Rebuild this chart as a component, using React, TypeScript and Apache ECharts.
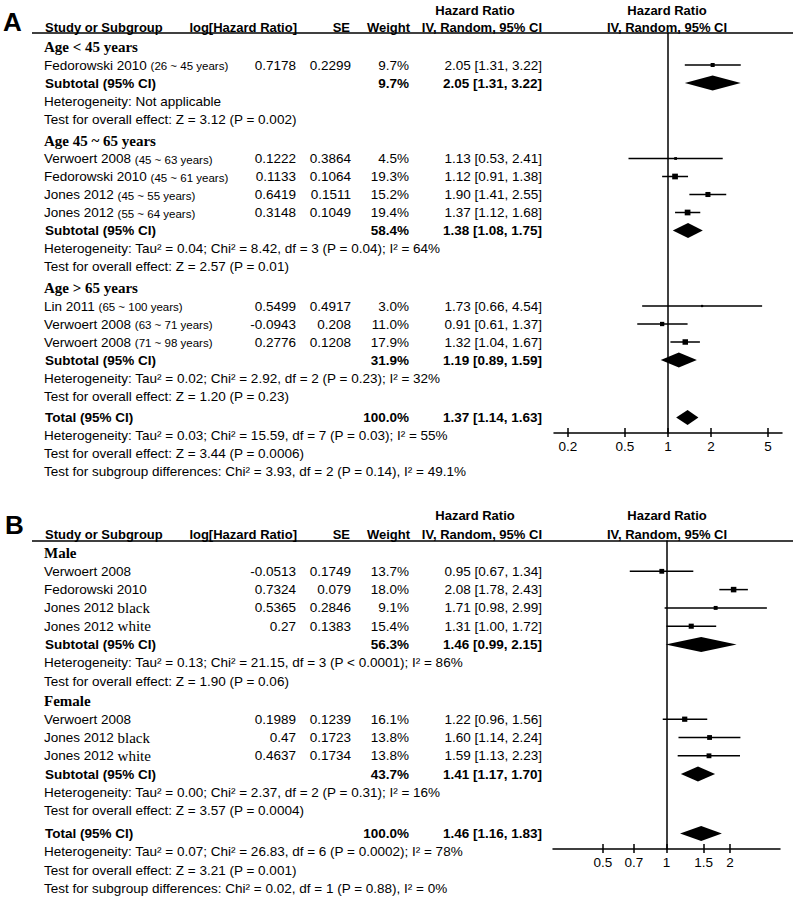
import React, { useEffect, useRef } from "react";
import * as echarts from "echarts";

const SANS = "'Liberation Sans', Arial, sans-serif";
const SERIF = "'Liberation Serif', 'Times New Roman', serif";

// ---------- shared headers ----------
const headerTop = "Hazard Ratio";
const headerCols = ["Study or Subgroup", "log[Hazard Ratio]", "SE", "Weight", "IV, Random, 95% CI"];
const plotHeaderTop = "Hazard Ratio";
const plotHeaderBottom = "IV, Random, 95% CI";

// ---------- Panel A ----------
const groupLabelsA = ["Age < 45 years", "Age 45 ~ 65 years", "Age > 65 years"];
const studyNamesA = ["Fedorowski 2010", "Verwoert 2008", "Fedorowski 2010", "Jones 2012", "Jones 2012", "Lin 2011", "Verwoert 2008", "Verwoert 2008"];
const studyNotesA = ["(26 ~ 45 years)", "(45 ~ 63 years)", "(45 ~ 61 years)", "(45 ~ 55 years)", "(55 ~ 64 years)", "(65 ~ 100 years)", "(63 ~ 71 years)", "(71 ~ 98 years)"];
const studyGroupA = [0, 1, 1, 1, 1, 2, 2, 2];
const logHrA = ["0.7178", "0.1222", "0.1133", "0.6419", "0.3148", "0.5499", "-0.0943", "0.2776"];
const seA = ["0.2299", "0.3864", "0.1064", "0.1511", "0.1049", "0.4917", "0.208", "0.1208"];
const weightA = [9.7, 4.5, 19.3, 15.2, 19.4, 3.0, 11.0, 17.9];
const hrA = [2.05, 1.13, 1.12, 1.9, 1.37, 1.73, 0.91, 1.32];
const loA = [1.31, 0.53, 0.91, 1.41, 1.12, 0.66, 0.61, 1.04];
const hiA = [3.22, 2.41, 1.38, 2.55, 1.68, 4.54, 1.37, 1.67];
const subWeightA = [9.7, 58.4, 31.9];
const subHrA = [2.05, 1.38, 1.19];
const subLoA = [1.31, 1.08, 0.89];
const subHiA = [3.22, 1.75, 1.59];
const hetA = [
  "Heterogeneity: Not applicable",
  "Heterogeneity: Tau\u00b2 = 0.04; Chi\u00b2 = 8.42, df = 3 (P = 0.04); I\u00b2 = 64%",
  "Heterogeneity: Tau\u00b2 = 0.02; Chi\u00b2 = 2.92, df = 2 (P = 0.23); I\u00b2 = 32%",
];
const effectA = [
  "Test for overall effect: Z = 3.12 (P = 0.002)",
  "Test for overall effect: Z = 2.57 (P = 0.01)",
  "Test for overall effect: Z = 1.20 (P = 0.23)",
];
const totalA = [1.37, 1.14, 1.63];
const totalNotesA = [
  "Heterogeneity: Tau\u00b2 = 0.03; Chi\u00b2 = 15.59, df = 7 (P = 0.03); I\u00b2 = 55%",
  "Test for overall effect: Z = 3.44 (P = 0.0006)",
  "Test for subgroup differences: Chi\u00b2 = 3.93, df = 2 (P = 0.14), I\u00b2 = 49.1%",
];
const ticksA = [0.2, 0.5, 1, 2, 5];
const xRangeA = [0.16, 6.25];

// ---------- Panel B ----------
const groupLabelsB = ["Male", "Female"];
const studyNamesB = ["Verwoert 2008", "Fedorowski 2010", "Jones 2012", "Jones 2012", "Verwoert 2008", "Jones 2012", "Jones 2012"];
const studyNotesB = ["", "", "black", "white", "", "black", "white"];
const studyGroupB = [0, 0, 0, 0, 1, 1, 1];
const logHrB = ["-0.0513", "0.7324", "0.5365", "0.27", "0.1989", "0.47", "0.4637"];
const seB = ["0.1749", "0.079", "0.2846", "0.1383", "0.1239", "0.1723", "0.1734"];
const weightB = [13.7, 18.0, 9.1, 15.4, 16.1, 13.8, 13.8];
const hrB = [0.95, 2.08, 1.71, 1.31, 1.22, 1.6, 1.59];
const loB = [0.67, 1.78, 0.98, 1.0, 0.96, 1.14, 1.13];
const hiB = [1.34, 2.43, 2.99, 1.72, 1.56, 2.24, 2.23];
const subWeightB = [56.3, 43.7];
const subHrB = [1.46, 1.41];
const subLoB = [0.99, 1.17];
const subHiB = [2.15, 1.7];
const hetB = [
  "Heterogeneity: Tau\u00b2 = 0.13; Chi\u00b2 = 21.15, df = 3 (P < 0.0001); I\u00b2 = 86%",
  "Heterogeneity: Tau\u00b2 = 0.00; Chi\u00b2 = 2.37, df = 2 (P = 0.31); I\u00b2 = 16%",
];
const effectB = [
  "Test for overall effect: Z = 1.90 (P = 0.06)",
  "Test for overall effect: Z = 3.57 (P = 0.0004)",
];
const totalB = [1.46, 1.16, 1.83];
const totalNotesB = [
  "Heterogeneity: Tau\u00b2 = 0.07; Chi\u00b2 = 26.83, df = 6 (P = 0.0002); I\u00b2 = 78%",
  "Test for overall effect: Z = 3.21 (P = 0.001)",
  "Test for subgroup differences: Chi\u00b2 = 0.02, df = 1 (P = 0.88), I\u00b2 = 0%",
];
const ticksB = [0.5, 0.7, 1, 1.5, 2];
const xRangeB = [0.29, 3.45];

const panelA = {
  label: "A", groups: groupLabelsA, names: studyNamesA, notes: studyNotesA, noteSerif: false,
  group: studyGroupA, logHr: logHrA, se: seA, weight: weightA, hr: hrA, lo: loA, hi: hiA,
  subW: subWeightA, subHr: subHrA, subLo: subLoA, subHi: subHiA, het: hetA, effect: effectA,
  total: totalA, totalNotes: totalNotesA, ticks: ticksA, range: xRangeA,
};
const panelB = {
  label: "B", groups: groupLabelsB, names: studyNamesB, notes: studyNotesB, noteSerif: true,
  group: studyGroupB, logHr: logHrB, se: seB, weight: weightB, hr: hrB, lo: loB, hi: hiB,
  subW: subWeightB, subHr: subHrB, subLo: subLoB, subHi: subHiB, het: hetB, effect: effectB,
  total: totalB, totalNotes: totalNotesB, ticks: ticksB, range: xRangeB,
};

// layout (pixels)
const geoA = { labelX: 3, labelY: 22, hdr1: 10, hdr2: 27, line: 33, row0: 47, step: 18, gapGroup: 3.5, gapTotal: 3.5, axis: 433, left: 554, right: 782 };
const geoB = { labelX: 5, labelY: 525, hdr1: 515, hdr2: 534, line: 541, row0: 553, step: 18.3, gapGroup: 1.5, gapTotal: 4.5, axis: 849, left: 553, right: 780 };

const COL = { name: 44, logHr: 296, se: 351, weight: 409, hr: 542, hrCenter: 475, plotCenter: 667 };
const FS = 13.5;

function txt(x: number, y: number, text: string, opt: any = {}) {
  return {
    type: "text", x, y, silent: true,
    style: { text, fill: "#000", fontFamily: SANS, fontSize: FS, fontWeight: "normal", align: "left", verticalAlign: "middle", ...opt },
  };
}

function studyText(x: number, y: number, name: string, note: string, serif: boolean) {
  if (!note) return txt(x, y, name);
  return txt(x, y, `{n|${name}} {p|${note}}`, {
    rich: {
      n: { fontFamily: SANS, fontSize: FS, fill: "#000" },
      p: serif
        ? { fontFamily: SERIF, fontSize: 15, fill: "#000", verticalAlign: "bottom" }
        : { fontFamily: SANS, fontSize: 11.5, fill: "#000", verticalAlign: "bottom" },
    },
  });
}

const hrText = (h: number, l: number, u: number) => `${h.toFixed(2)} [${l.toFixed(2)}, ${u.toFixed(2)}]`;

function buildPanel(p: any, g: any) {
  const els: any[] = [];
  const marks: number[][] = [];
  let idx = 0;
  let gap = 0;
  const next = () => g.row0 + idx++ * g.step + gap;
  const yv = (y: number) => (y - g.row0) / g.step;
  const B = { fontWeight: "bold" };
  const R = { align: "right" };

  els.push(txt(g.labelX, g.labelY, p.label, { fontSize: 26, fontWeight: "bold" }));
  els.push(txt(COL.hrCenter, g.hdr1, headerTop, { fontWeight: "bold", fontSize: 13, align: "center" }));
  els.push(txt(COL.plotCenter, g.hdr1, plotHeaderTop, { fontWeight: "bold", fontSize: 13, align: "center" }));
  els.push(txt(45, g.hdr2, headerCols[0], { fontWeight: "bold", fontSize: 13 }));
  els.push(txt(297, g.hdr2, headerCols[1], { fontWeight: "bold", fontSize: 13, align: "right" }));
  els.push(txt(350, g.hdr2, headerCols[2], { fontWeight: "bold", fontSize: 13, align: "right" }));
  els.push(txt(410, g.hdr2, headerCols[3], { fontWeight: "bold", fontSize: 13, align: "right" }));
  els.push(txt(542, g.hdr2, headerCols[4], { fontWeight: "bold", fontSize: 13, align: "right" }));
  els.push(txt(COL.plotCenter, g.hdr2, plotHeaderBottom, { fontWeight: "bold", fontSize: 13, align: "center" }));
  els.push({ type: "line", silent: true, shape: { x1: 32, y1: g.line, x2: 793, y2: g.line }, style: { stroke: "#000", lineWidth: 1.5 } });

  p.groups.forEach((gl: string, gi: number) => {
    if (gi > 0) gap += g.gapGroup;
    let y = next();
    els.push(txt(COL.name, y, gl, { fontFamily: SERIF, fontSize: 15, fontWeight: "bold" }));
    p.group.forEach((sg: number, si: number) => {
      if (sg !== gi) return;
      y = next();
      els.push(studyText(COL.name, y, p.names[si], p.notes[si], p.noteSerif));
      els.push(txt(COL.logHr, y, p.logHr[si], R));
      els.push(txt(COL.se, y, p.se[si], R));
      els.push(txt(COL.weight, y, p.weight[si].toFixed(1) + "%", R));
      els.push(txt(COL.hr, y, hrText(p.hr[si], p.lo[si], p.hi[si]), R));
      marks.push([Math.log10(p.lo[si]), Math.log10(p.hi[si]), Math.log10(p.hr[si]), yv(y), 0, p.weight[si]]);
    });
    y = next();
    els.push(txt(COL.name + 1, y, "Subtotal (95% CI)", B));
    els.push(txt(COL.weight, y, p.subW[gi].toFixed(1) + "%", { ...B, ...R }));
    els.push(txt(COL.hr, y, hrText(p.subHr[gi], p.subLo[gi], p.subHi[gi]), { ...B, ...R }));
    marks.push([Math.log10(p.subLo[gi]), Math.log10(p.subHi[gi]), Math.log10(p.subHr[gi]), yv(y), 1, 0]);
    y = next();
    els.push(txt(COL.name, y, p.het[gi]));
    y = next();
    els.push(txt(COL.name, y, p.effect[gi]));
  });
  gap += g.gapTotal;
  let y = next();
  els.push(txt(COL.name + 1, y, "Total (95% CI)", B));
  els.push(txt(COL.weight, y, (100).toFixed(1) + "%", { ...B, ...R }));
  els.push(txt(COL.hr, y, hrText(p.total[0], p.total[1], p.total[2]), { ...B, ...R }));
  marks.push([Math.log10(p.total[1]), Math.log10(p.total[2]), Math.log10(p.total[0]), yv(y), 1, 0]);
  p.totalNotes.forEach((t: string) => {
    y = next();
    els.push(txt(COL.name, y, t));
  });
  return { els, marks, yMin: yv(g.line), yMax: yv(g.axis) };
}

function renderMark(params: any, api: any) {
  const y = api.value(3);
  const lo = api.coord([api.value(0), y]);
  const hi = api.coord([api.value(1), y]);
  const c = api.coord([api.value(2), y]);
  if (api.value(4) === 1) {
    const h = 7.5;
    return {
      type: "polygon",
      shape: { points: [[lo[0], c[1]], [c[0], c[1] - h], [hi[0], c[1]], [c[0], c[1] + h]] },
      style: { fill: "#000" },
    };
  }
  const s = 1.3 * Math.sqrt(api.value(5));
  return {
    type: "group",
    children: [
      { type: "line", shape: { x1: lo[0], y1: lo[1], x2: hi[0], y2: hi[1] }, style: { stroke: "#000", lineWidth: 1.5 } },
      { type: "rect", shape: { x: c[0] - s / 2, y: c[1] - s / 2, width: s, height: s }, style: { fill: "#000" } },
    ],
  };
}

function axesFor(p: any, g: any, gridIndex: number) {
  const min = Math.log10(p.range[0]);
  const max = Math.log10(p.range[1]);
  const tv = p.ticks.map((t: number) => Math.log10(t));
  const lineStyle = { color: "#000", width: 1.5 };
  return [
    {
      type: "value", gridIndex, min, max, position: "bottom",
      axisLine: { show: true, onZero: false, lineStyle },
      axisTick: { show: true, customValues: tv, length: 4, lineStyle },
      axisLabel: {
        show: true, customValues: tv, color: "#000", fontFamily: SANS, fontSize: FS, margin: 6,
        formatter: (v: number) => String(Number(Math.pow(10, v).toPrecision(2))),
      },
      splitLine: { show: false },
    },
    {
      type: "value", gridIndex, min, max, position: "top", offset: -(g.axis - g.line),
      axisLine: { show: false, onZero: false },
      axisTick: { show: true, customValues: tv, length: 5, lineStyle },
      axisLabel: { show: false },
      splitLine: { show: false },
    },
  ];
}

export default function App() {
  const ref = useRef<HTMLDivElement>(null);
  useEffect(() => {
    if (!ref.current) return;
    const chart = echarts.init(ref.current, null, { renderer: "svg" });
    const A = buildPanel(panelA, geoA);
    const Bp = buildPanel(panelB, geoB);
    const yAxis = (gridIndex: number, lo: number, hi: number) => ({
      type: "value", gridIndex, inverse: true, min: lo, max: hi,
      axisLine: { show: true, onZero: true, lineStyle: { color: "#000", width: 1.5 } },
      axisTick: { show: false }, axisLabel: { show: false }, splitLine: { show: false },
    });
    chart.setOption({
      animation: false,
      backgroundColor: "#fff",
      grid: [
        { left: geoA.left, top: geoA.line, width: geoA.right - geoA.left, height: geoA.axis - geoA.line, containLabel: false, outerBoundsMode: "none" },
        { left: geoB.left, top: geoB.line, width: geoB.right - geoB.left, height: geoB.axis - geoB.line, containLabel: false, outerBoundsMode: "none" },
      ],
      xAxis: [...axesFor(panelA, geoA, 0), ...axesFor(panelB, geoB, 1)],
      yAxis: [yAxis(0, A.yMin, A.yMax), yAxis(1, Bp.yMin, Bp.yMax)],
      series: [
        { type: "custom", xAxisIndex: 0, yAxisIndex: 0, data: A.marks, renderItem: renderMark, encode: { x: [0, 1, 2], y: 3 }, clip: false, silent: true },
        { type: "custom", xAxisIndex: 2, yAxisIndex: 1, data: Bp.marks, renderItem: renderMark, encode: { x: [0, 1, 2], y: 3 }, clip: false, silent: true },
      ],
      graphic: [...A.els, ...Bp.els],
    });
    return () => chart.dispose();
  }, []);
  return (
    <div
      ref={ref}
      style={{ position: "fixed", left: 0, top: 0, width: 797, height: 898, background: "#fff" }}
    />
  );
}
